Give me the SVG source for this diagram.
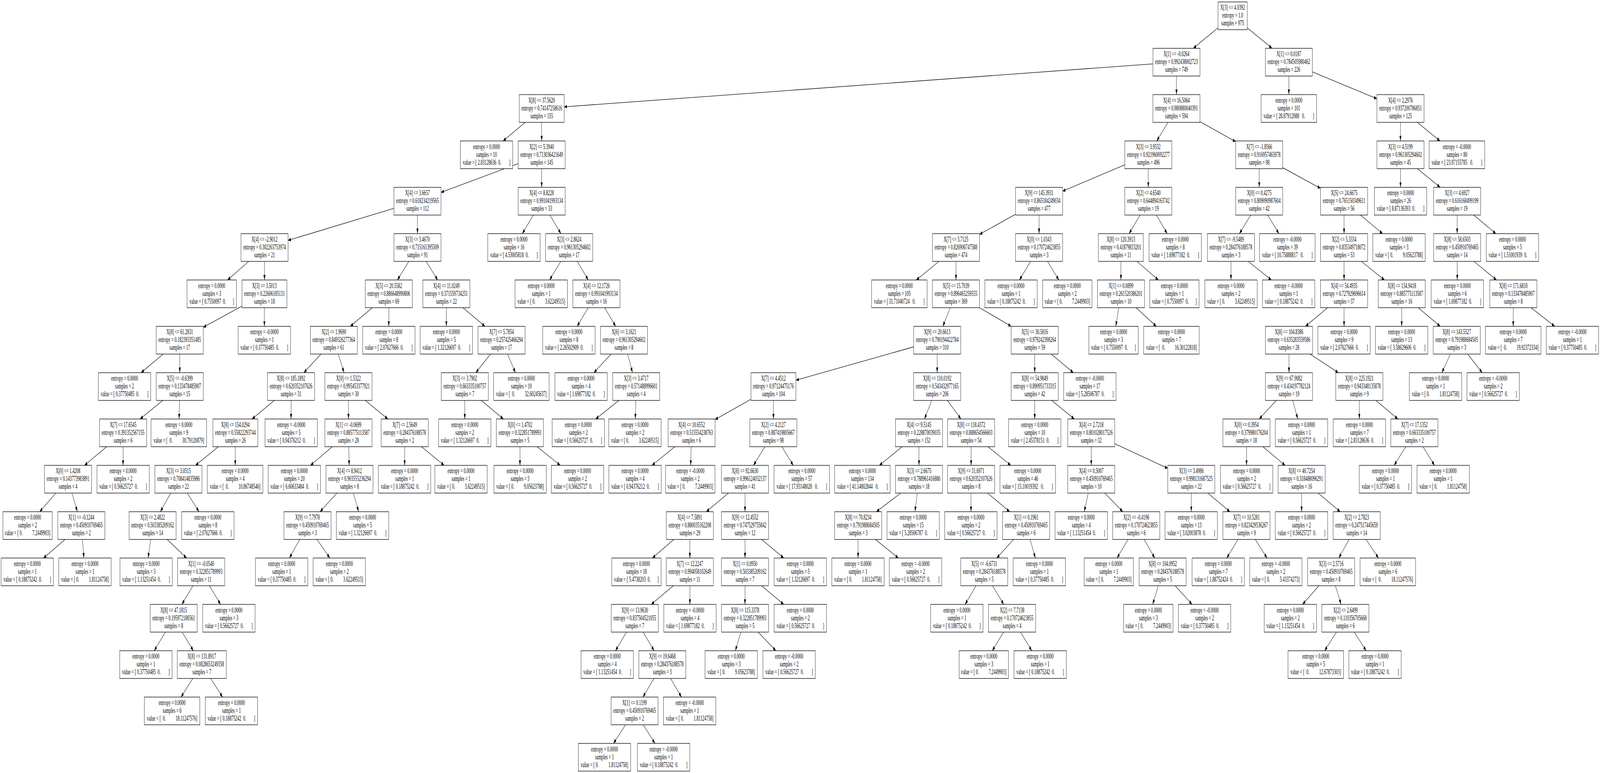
<svg xmlns="http://www.w3.org/2000/svg" width="7549" height="1980" viewBox="0 0 7549 1980" preserveAspectRatio="none" xml:space="preserve">
<style>
svg{width:100vw;height:100vh}
rect{fill:#fff;stroke:#000;stroke-width:1.33}
text{font-family:"Liberation Serif","Times New Roman",serif;font-size:18.5px;text-anchor:middle;fill:#000;white-space:pre}
#edges line{stroke:#000;stroke-width:1.33;marker-end:url(#ah)}
</style>
<defs><marker id="ah" markerUnits="userSpaceOnUse" markerWidth="13.3" markerHeight="9.4" viewBox="0 0 13.3 9.4" refX="13.3" refY="4.7" orient="auto"><path d="M0,0 L13.3,4.7 L0,9.4 z" fill="#000"/></marker></defs>
<rect x="0" y="0" width="7549" height="1980" style="stroke:none"/>
<g id="edges">
<line x1="5746.7" y1="71.4" x2="5630" y2="123.7"/><line x1="5884.7" y1="71.4" x2="6001.7" y2="123.7"/><line x1="5439.7" y1="163.6" x2="2661.7" y2="273.7"/><line x1="5550.7" y1="194.7" x2="5550.7" y2="242.4"/><line x1="6081" y1="194.7" x2="6081" y2="242.4"/><line x1="6192" y1="184.2" x2="6496.5" y2="252.9"/>
<line x1="2477.9" y1="313.4" x2="2373.4" y2="361.1"/><line x1="2555.7" y1="313.4" x2="2555.7" y2="361.1"/><line x1="5511" y1="313.4" x2="5457.6" y2="361.1"/><line x1="5661.7" y1="311.7" x2="5830" y2="362.8"/><line x1="6607.5" y1="313.4" x2="6607.5" y2="361.1"/><line x1="6687.2" y1="313.4" x2="6794.3" y2="361.1"/>
<line x1="2444.7" y1="419.1" x2="2080.7" y2="492.8"/><line x1="2555.7" y1="432.1" x2="2555.7" y2="479.8"/><line x1="5306.9" y1="422.2" x2="5013.5" y2="489.7"/><line x1="5417.9" y1="432.1" x2="5417.9" y2="479.8"/><line x1="5941.1" y1="432.1" x2="5941.1" y2="479.8"/><line x1="6052" y1="429.5" x2="6230.5" y2="482.4"/><line x1="6607.7" y1="432.1" x2="6607.7" y2="479.8"/><line x1="6687.5" y1="432.1" x2="6795" y2="479.8"/>
<line x1="1858.7" y1="533.6" x2="1359" y2="615.7"/><line x1="1969.7" y1="550.8" x2="1969.7" y2="598.5"/><line x1="2516.6" y1="550.8" x2="2464.1" y2="598.5"/><line x1="2594.4" y1="550.8" x2="2646.5" y2="598.5"/><line x1="4791.5" y1="548.9" x2="4621.3" y2="600.4"/><line x1="4902.5" y1="550.8" x2="4902.5" y2="598.5"/><line x1="5379.2" y1="550.8" x2="5327.1" y2="598.5"/><line x1="5455.9" y1="550.8" x2="5507" y2="598.5"/><line x1="5901.2" y1="550.8" x2="5847.6" y2="598.5"/><line x1="5980.9" y1="550.8" x2="6034.3" y2="598.5"/><line x1="6341.5" y1="550.8" x2="6341.5" y2="598.5"/><line x1="6419.1" y1="550.8" x2="6523.4" y2="598.5"/><line x1="6875" y1="550.8" x2="6875" y2="598.5"/><line x1="6953.1" y1="550.8" x2="7057.9" y2="598.5"/>
<line x1="1173.5" y1="669.5" x2="1073.5" y2="717.2"/><line x1="1247.8" y1="669.5" x2="1247.8" y2="717.2"/><line x1="1929.2" y1="669.5" x2="1874.8" y2="717.2"/><line x1="2010.5" y1="669.5" x2="2065.2" y2="717.2"/><line x1="2645.9" y1="669.5" x2="2593" y2="717.2"/><line x1="2723.7" y1="669.5" x2="2775.5" y2="717.2"/><line x1="4430.4" y1="669.5" x2="4322.9" y2="717.2"/><line x1="4510.3" y1="669.5" x2="4510.3" y2="717.2"/><line x1="4862.9" y1="669.5" x2="4809.6" y2="717.2"/><line x1="4942.3" y1="669.5" x2="4995.9" y2="717.2"/><line x1="5288.7" y1="669.5" x2="5288.7" y2="717.2"/><line x1="5363.9" y1="669.5" x2="5465.5" y2="717.2"/><line x1="5807.8" y1="669.5" x2="5807.8" y2="717.2"/><line x1="5889.1" y1="669.5" x2="5998.5" y2="717.2"/><line x1="6341.5" y1="669.5" x2="6341.5" y2="717.2"/><line x1="6422.9" y1="669.5" x2="6532.2" y2="717.2"/><line x1="6875.5" y1="669.5" x2="6875.5" y2="717.2"/><line x1="6954.3" y1="669.5" x2="7060.7" y2="717.2"/>
<line x1="1141.5" y1="784.2" x2="959" y2="838.4"/><line x1="1247.4" y1="788.2" x2="1247.4" y2="835.9"/><line x1="1756.8" y1="788.2" x2="1652.5" y2="835.9"/><line x1="1834.4" y1="788.2" x2="1834.4" y2="835.9"/><line x1="2106" y1="788.2" x2="2106" y2="835.9"/><line x1="2183.9" y1="788.2" x2="2288.5" y2="835.9"/><line x1="2775.1" y1="788.2" x2="2722.9" y2="835.9"/><line x1="2852.9" y1="788.2" x2="2905.1" y2="835.9"/><line x1="4483.8" y1="788.2" x2="4448.2" y2="835.9"/><line x1="4621.3" y1="788.2" x2="4771" y2="835.9"/><line x1="5278.5" y1="788.2" x2="5264.5" y2="835.9"/><line x1="5360.2" y1="788.2" x2="5455.8" y2="835.9"/><line x1="6263.8" y1="788.2" x2="6159.4" y2="835.9"/><line x1="6341.5" y1="788.2" x2="6341.5" y2="835.9"/><line x1="6613.3" y1="788.2" x2="6613.3" y2="835.9"/><line x1="6691.2" y1="788.2" x2="6795.4" y2="835.9"/><line x1="7139.7" y1="788.2" x2="7139.7" y2="835.9"/><line x1="7223.4" y1="788.2" x2="7335.6" y2="835.9"/>
<line x1="770.1" y1="906.9" x2="665.5" y2="954.6"/><line x1="848" y1="906.9" x2="848" y2="954.6"/><line x1="1514.6" y1="906.9" x2="1433.4" y2="954.6"/><line x1="1595.6" y1="906.9" x2="1623.4" y2="954.6"/><line x1="2314.5" y1="906.9" x2="2244.9" y2="954.6"/><line x1="2394.4" y1="906.9" x2="2432" y2="954.6"/><line x1="2883.4" y1="906.9" x2="2801.9" y2="954.6"/><line x1="2961.2" y1="906.9" x2="2984.3" y2="954.6"/><line x1="4310.7" y1="888.5" x2="3755.4" y2="973.8"/><line x1="4421.7" y1="906.9" x2="4421.7" y2="954.6"/><line x1="4882" y1="906.9" x2="4882" y2="954.6"/><line x1="4959.8" y1="906.9" x2="5064.2" y2="954.6"/><line x1="6081.7" y1="906.9" x2="6081.7" y2="954.6"/><line x1="6181" y1="906.9" x2="6314.3" y2="954.6"/><line x1="6843.1" y1="906.9" x2="6802.9" y2="954.6"/><line x1="6924.4" y1="906.9" x2="6993.6" y2="954.6"/>
<line x1="768.1" y1="1025.6" x2="660.6" y2="1073.3"/><line x1="846.7" y1="1025.6" x2="845.1" y2="1073.3"/><line x1="1294.5" y1="1025.6" x2="1189" y2="1073.3"/><line x1="1373.3" y1="1025.6" x2="1373.3" y2="1073.3"/><line x1="1644" y1="1025.6" x2="1644" y2="1073.3"/><line x1="1723.4" y1="1025.6" x2="1830.1" y2="1073.3"/><line x1="2192.9" y1="1025.6" x2="2192.9" y2="1073.3"/><line x1="2270.8" y1="1025.6" x2="2375.2" y2="1073.3"/><line x1="2919.9" y1="1025.6" x2="2810.2" y2="1073.3"/><line x1="2999.8" y1="1025.6" x2="2997.5" y2="1073.3"/><line x1="3543.4" y1="1022.7" x2="3374" y2="1074.7"/><line x1="3649.1" y1="1025.6" x2="3649.1" y2="1073.3"/><line x1="4396.1" y1="1025.6" x2="4361.6" y2="1073.3"/><line x1="4469.6" y1="1025.6" x2="4533.9" y2="1073.3"/><line x1="4882" y1="1025.6" x2="4882" y2="1073.3"/><line x1="4961.8" y1="1025.6" x2="5068.9" y2="1073.3"/><line x1="6021.7" y1="1025.6" x2="5941" y2="1073.3"/><line x1="6099.3" y1="1025.6" x2="6123.1" y2="1073.3"/><line x1="6413.6" y1="1025.6" x2="6413.6" y2="1073.3"/><line x1="6491.3" y1="1025.6" x2="6595.6" y2="1073.3"/>
<line x1="503" y1="1144.3" x2="398.6" y2="1192"/><line x1="580.7" y1="1144.3" x2="580.7" y2="1192"/><line x1="1030.2" y1="1144.3" x2="922.3" y2="1192"/><line x1="1109.9" y1="1144.3" x2="1109.9" y2="1192"/><line x1="1567.6" y1="1144.3" x2="1464.9" y2="1192"/><line x1="1645.5" y1="1144.3" x2="1647.5" y2="1192"/><line x1="1909.2" y1="1144.3" x2="1909.2" y2="1192"/><line x1="1988.9" y1="1144.3" x2="2095.6" y2="1192"/><line x1="2453.3" y1="1144.3" x2="2453.3" y2="1192"/><line x1="2534.3" y1="1144.3" x2="2643.5" y2="1192"/><line x1="3183.3" y1="1144.3" x2="3076.1" y2="1192"/><line x1="3261.1" y1="1144.3" x2="3258.6" y2="1192"/><line x1="3608.8" y1="1144.3" x2="3555" y2="1192"/><line x1="3688.9" y1="1144.3" x2="3742.9" y2="1192"/><line x1="4256.1" y1="1144.3" x2="4148.9" y2="1192"/><line x1="4336" y1="1144.3" x2="4336" y2="1192"/><line x1="4581.8" y1="1144.3" x2="4581.8" y2="1192"/><line x1="4661.7" y1="1144.3" x2="4769.1" y2="1192"/><line x1="5148.7" y1="1144.3" x2="5148.7" y2="1192"/><line x1="5259.7" y1="1136.7" x2="5509.7" y2="1199.6"/><line x1="5881.3" y1="1144.3" x2="5881.3" y2="1192"/><line x1="5958.8" y1="1144.3" x2="6063.5" y2="1192"/><line x1="6632.4" y1="1144.3" x2="6577.6" y2="1192"/><line x1="6713.8" y1="1144.3" x2="6768.3" y2="1192"/>
<line x1="263.8" y1="1263" x2="187.1" y2="1310.7"/><line x1="339.7" y1="1263" x2="364.9" y2="1310.7"/><line x1="805.5" y1="1263" x2="756.5" y2="1310.7"/><line x1="883.5" y1="1263" x2="939.1" y2="1310.7"/><line x1="1589.7" y1="1263" x2="1510" y2="1310.7"/><line x1="1667.4" y1="1263" x2="1692.1" y2="1310.7"/><line x1="3437.2" y1="1263" x2="3332.5" y2="1310.7"/><line x1="3515" y1="1263" x2="3515" y2="1310.7"/><line x1="4250.2" y1="1263" x2="4134.8" y2="1310.7"/><line x1="4327.8" y1="1263" x2="4316.9" y2="1310.7"/><line x1="4581.4" y1="1263" x2="4581.4" y2="1310.7"/><line x1="4659.4" y1="1263" x2="4763.8" y2="1310.7"/><line x1="5134.6" y1="1263" x2="5115.6" y2="1310.7"/><line x1="5212.2" y1="1263" x2="5297.5" y2="1310.7"/><line x1="5620.6" y1="1263" x2="5620.6" y2="1310.7"/><line x1="5698.5" y1="1263" x2="5803.2" y2="1310.7"/><line x1="6141" y1="1263" x2="6141" y2="1310.7"/><line x1="6219" y1="1263" x2="6323.3" y2="1310.7"/>
<line x1="307.4" y1="1381.7" x2="205" y2="1429.4"/><line x1="388.9" y1="1381.7" x2="395.8" y2="1429.4"/><line x1="710.9" y1="1381.7" x2="698.6" y2="1429.4"/><line x1="788.5" y1="1381.7" x2="880.4" y2="1429.4"/><line x1="1414.2" y1="1381.7" x2="1365.3" y2="1429.4"/><line x1="1495.7" y1="1381.7" x2="1556" y2="1429.4"/><line x1="3179.4" y1="1381.7" x2="3078.1" y2="1429.4"/><line x1="3254.7" y1="1381.7" x2="3254.7" y2="1429.4"/><line x1="3515" y1="1381.7" x2="3515" y2="1429.4"/><line x1="3593.1" y1="1381.7" x2="3697.9" y2="1429.4"/><line x1="4048.5" y1="1381.7" x2="4048.5" y2="1429.4"/><line x1="4130" y1="1381.7" x2="4238.7" y2="1429.4"/><line x1="4782.2" y1="1381.7" x2="4702.8" y2="1429.4"/><line x1="4860.1" y1="1381.7" x2="4885.1" y2="1429.4"/><line x1="5322.3" y1="1381.7" x2="5270.3" y2="1429.4"/><line x1="5398.2" y1="1381.7" x2="5448.3" y2="1429.4"/><line x1="5841.2" y1="1381.7" x2="5787.8" y2="1429.4"/><line x1="5922.4" y1="1381.7" x2="5978.1" y2="1429.4"/><line x1="6365" y1="1381.7" x2="6316.5" y2="1429.4"/><line x1="6445" y1="1381.7" x2="6504" y2="1429.4"/>
<line x1="910.2" y1="1500.4" x2="858.2" y2="1548.1"/><line x1="988.1" y1="1500.4" x2="1040.8" y2="1548.1"/><line x1="3177" y1="1500.4" x2="3072.7" y2="1548.1"/><line x1="3255" y1="1500.4" x2="3255" y2="1548.1"/><line x1="3515" y1="1500.4" x2="3515" y2="1548.1"/><line x1="3593.1" y1="1500.4" x2="3697.9" y2="1548.1"/><line x1="4605.1" y1="1500.4" x2="4553.3" y2="1548.1"/><line x1="4682.9" y1="1500.4" x2="4735.7" y2="1548.1"/><line x1="5465.3" y1="1500.4" x2="5438.2" y2="1548.1"/><line x1="5544.7" y1="1500.4" x2="5624.3" y2="1548.1"/><line x1="6222.9" y1="1500.4" x2="6145.6" y2="1548.1"/><line x1="6300.6" y1="1500.4" x2="6327.5" y2="1548.1"/>
<line x1="780.3" y1="1619.1" x2="727.5" y2="1666.8"/><line x1="859.1" y1="1619.1" x2="912.4" y2="1666.8"/><line x1="2956.1" y1="1619.1" x2="2903.9" y2="1666.8"/><line x1="3033.9" y1="1619.1" x2="3086.1" y2="1666.8"/><line x1="3495.6" y1="1619.1" x2="3469.4" y2="1666.8"/><line x1="3577.2" y1="1619.1" x2="3660.8" y2="1666.8"/><line x1="4735.1" y1="1619.1" x2="4681.6" y2="1666.8"/><line x1="4814.7" y1="1619.1" x2="4868" y2="1666.8"/><line x1="6305.8" y1="1619.1" x2="6249.6" y2="1666.8"/><line x1="6389.4" y1="1619.1" x2="6445.7" y2="1666.8"/>
<line x1="910.1" y1="1737.8" x2="853.9" y2="1785.5"/><line x1="993.9" y1="1737.8" x2="1050.1" y2="1785.5"/><line x1="3085.8" y1="1737.8" x2="3033.2" y2="1785.5"/><line x1="3163.6" y1="1737.8" x2="3215.4" y2="1785.5"/>
<line x1="2951.5" y1="1856.5" x2="2894.5" y2="1904.2"/><line x1="3035" y1="1856.5" x2="3090" y2="1904.2"/>
</g>
<g id="n0" transform="translate(5815.7,5)"><rect x="-69" width="138" height="71"/><text y="20.5">X[3] &lt;= 4.0392</text><text y="40.5">entropy = 1.0</text><text y="60.5">samples = 975</text></g>
<g id="n1" transform="translate(5550.7,123.7)"><rect x="-111" width="222" height="71"/><text y="20.5">X[1] &lt;= -0.0264</text><text y="40.5">entropy = 0.992438002723</text><text y="60.5">samples = 749</text></g>
<g id="n2" transform="translate(6081,123.7)"><rect x="-111" width="222" height="71"/><text y="20.5">X[1] &lt;= 0.0187</text><text y="40.5">entropy = 0.784505980462</text><text y="60.5">samples = 226</text></g>
<g id="n3" transform="translate(2555.7,242.4)"><rect x="-106" width="212" height="71"/><text y="20.5">X[8] &lt;= 37.5620</text><text y="40.5">entropy = 0.74147258616</text><text y="60.5">samples = 155</text></g>
<g id="n4" transform="translate(5550.7,242.4)"><rect x="-111" width="222" height="71"/><text y="20.5">X[4] &lt;= 16.5064</text><text y="40.5">entropy = 0.980880040391</text><text y="60.5">samples = 594</text></g>
<g id="n5" transform="translate(6081,242.4)"><rect x="-131" width="262" height="71"/><text y="20.5">entropy = 0.0000</text><text y="40.5">samples = 101</text><text y="60.5">value = [ 28.87912088   0.        ]</text></g>
<g id="n6" transform="translate(6607.5,242.4)"><rect x="-111" width="222" height="71"/><text y="20.5">X[4] &lt;= 2.2976</text><text y="40.5">entropy = 0.937200786851</text><text y="60.5">samples = 125</text></g>
<g id="n7" transform="translate(2295.6,361.1)"><rect x="-123.5" width="247" height="71"/><text y="20.5">entropy = 0.0000</text><text y="40.5">samples = 10</text><text y="60.5">value = [ 2.83128636  0.        ]</text></g>
<g id="n8" transform="translate(2555.7,361.1)"><rect x="-111" width="222" height="71"/><text y="20.5">X[2] &lt;= 5.3940</text><text y="40.5">entropy = 0.713036421649</text><text y="60.5">samples = 145</text></g>
<g id="n9" transform="translate(5417.9,361.1)"><rect x="-111" width="222" height="71"/><text y="20.5">X[3] &lt;= 3.9532</text><text y="40.5">entropy = 0.921960092277</text><text y="60.5">samples = 496</text></g>
<g id="n10" transform="translate(5941,361.1)"><rect x="-111" width="222" height="71"/><text y="20.5">X[7] &lt;= -1.8566</text><text y="40.5">entropy = 0.916957465978</text><text y="60.5">samples = 98</text></g>
<g id="n11" transform="translate(6607.5,361.1)"><rect x="-111" width="222" height="71"/><text y="20.5">X[3] &lt;= 4.5199</text><text y="40.5">entropy = 0.961305294602</text><text y="60.5">samples = 45</text></g>
<g id="n12" transform="translate(6874,361.1)"><rect x="-131" width="262" height="71"/><text y="20.5">entropy = -0.0000</text><text y="40.5">samples = 80</text><text y="60.5">value = [ 23.97155785   0.        ]</text></g>
<g id="n13" transform="translate(1969.7,479.8)"><rect x="-111" width="222" height="71"/><text y="20.5">X[4] &lt;= 3.6657</text><text y="40.5">entropy = 0.618234219565</text><text y="60.5">samples = 112</text></g>
<g id="n14" transform="translate(2555.7,479.8)"><rect x="-111" width="222" height="71"/><text y="20.5">X[4] &lt;= 8.8228</text><text y="40.5">entropy = 0.991041993134</text><text y="60.5">samples = 33</text></g>
<g id="n15" transform="translate(4902.5,479.8)"><rect x="-111" width="222" height="71"/><text y="20.5">X[9] &lt;= 145.3931</text><text y="40.5">entropy = 0.865184249034</text><text y="60.5">samples = 477</text></g>
<g id="n16" transform="translate(5417.9,479.8)"><rect x="-111" width="222" height="71"/><text y="20.5">X[2] &lt;= 4.6540</text><text y="40.5">entropy = 0.644894163742</text><text y="60.5">samples = 19</text></g>
<g id="n17" transform="translate(5941.2,479.8)"><rect x="-111" width="222" height="71"/><text y="20.5">X[0] &lt;= 0.4275</text><text y="40.5">entropy = 0.809090987604</text><text y="60.5">samples = 42</text></g>
<g id="n18" transform="translate(6341.5,479.8)"><rect x="-111" width="222" height="71"/><text y="20.5">X[5] &lt;= 24.6675</text><text y="40.5">entropy = 0.765150349611</text><text y="60.5">samples = 56</text></g>
<g id="n19" transform="translate(6608,479.8)"><rect x="-123.5" width="247" height="71"/><text y="20.5">entropy = 0.0000</text><text y="40.5">samples = 26</text><text y="60.5">value = [ 8.87136393  0.        ]</text></g>
<g id="n20" transform="translate(6875,479.8)"><rect x="-111" width="222" height="71"/><text y="20.5">X[3] &lt;= 4.6927</text><text y="40.5">entropy = 0.616168499199</text><text y="60.5">samples = 19</text></g>
<g id="n21" transform="translate(1248,598.5)"><rect x="-111" width="222" height="71"/><text y="20.5">X[4] &lt;= -2.9012</text><text y="40.5">entropy = 0.302263753974</text><text y="60.5">samples = 21</text></g>
<g id="n22" transform="translate(1969.7,598.5)"><rect x="-111" width="222" height="71"/><text y="20.5">X[3] &lt;= 3.4670</text><text y="40.5">entropy = 0.715161395509</text><text y="60.5">samples = 91</text></g>
<g id="n23" transform="translate(2425,598.5)"><rect x="-123.5" width="247" height="71"/><text y="20.5">entropy = 0.0000</text><text y="40.5">samples = 16</text><text y="60.5">value = [ 4.53005818  0.        ]</text></g>
<g id="n24" transform="translate(2685.2,598.5)"><rect x="-111" width="222" height="71"/><text y="20.5">X[3] &lt;= 2.8624</text><text y="40.5">entropy = 0.961305294602</text><text y="60.5">samples = 17</text></g>
<g id="n25" transform="translate(4510.3,598.5)"><rect x="-111" width="222" height="71"/><text y="20.5">X[7] &lt;= 3.7125</text><text y="40.5">entropy = 0.826906747588</text><text y="60.5">samples = 474</text></g>
<g id="n26" transform="translate(4902.5,598.5)"><rect x="-111" width="222" height="71"/><text y="20.5">X[0] &lt;= 1.0343</text><text y="40.5">entropy = 0.170724623855</text><text y="60.5">samples = 3</text></g>
<g id="n27" transform="translate(5288.4,598.5)"><rect x="-106" width="212" height="71"/><text y="20.5">X[8] &lt;= 120.3913</text><text y="40.5">entropy = 0.41879833201</text><text y="60.5">samples = 11</text></g>
<g id="n28" transform="translate(5545,598.5)"><rect x="-123.5" width="247" height="71"/><text y="20.5">entropy = 0.0000</text><text y="40.5">samples = 8</text><text y="60.5">value = [ 1.69877182  0.        ]</text></g>
<g id="n29" transform="translate(5807.6,598.5)"><rect x="-111" width="222" height="71"/><text y="20.5">X[7] &lt;= -9.5489</text><text y="40.5">entropy = 0.284376188578</text><text y="60.5">samples = 3</text></g>
<g id="n30" transform="translate(6074,598.5)"><rect x="-131" width="262" height="71"/><text y="20.5">entropy = -0.0000</text><text y="40.5">samples = 39</text><text y="60.5">value = [ 10.75888817   0.        ]</text></g>
<g id="n31" transform="translate(6341.5,598.5)"><rect x="-111" width="222" height="71"/><text y="20.5">X[2] &lt;= 5.3334</text><text y="40.5">entropy = 0.835349718072</text><text y="60.5">samples = 53</text></g>
<g id="n32" transform="translate(6601,598.5)"><rect x="-123.5" width="247" height="71"/><text y="20.5">entropy = 0.0000</text><text y="40.5">samples = 3</text><text y="60.5">value = [ 0.          9.05623788]</text></g>
<g id="n33" transform="translate(6875,598.5)"><rect x="-111" width="222" height="71"/><text y="20.5">X[8] &lt;= 58.6503</text><text y="40.5">entropy = 0.450910769465</text><text y="60.5">samples = 14</text></g>
<g id="n34" transform="translate(7136,598.5)"><rect x="-123.5" width="247" height="71"/><text y="20.5">entropy = 0.0000</text><text y="40.5">samples = 5</text><text y="60.5">value = [ 1.51001939  0.        ]</text></g>
<g id="n35" transform="translate(999,717.2)"><rect x="-116.5" width="233" height="71"/><text y="20.5">entropy = 0.0000</text><text y="40.5">samples = 3</text><text y="60.5">value = [ 0.7550097  0.       ]</text></g>
<g id="n36" transform="translate(1247.5,717.2)"><rect x="-106" width="212" height="71"/><text y="20.5">X[3] &lt;= 3.5013</text><text y="40.5">entropy = 0.22606185131</text><text y="60.5">samples = 18</text></g>
<g id="n37" transform="translate(1834.3,717.2)"><rect x="-111" width="222" height="71"/><text y="20.5">X[5] &lt;= 20.5582</text><text y="40.5">entropy = 0.886648990806</text><text y="60.5">samples = 69</text></g>
<g id="n38" transform="translate(2106,717.2)"><rect x="-111" width="222" height="71"/><text y="20.5">X[4] &lt;= 11.0249</text><text y="40.5">entropy = 0.371559734251</text><text y="60.5">samples = 22</text></g>
<g id="n39" transform="translate(2553.7,717.2)"><rect x="-123.5" width="247" height="71"/><text y="20.5">entropy = 0.0000</text><text y="40.5">samples = 1</text><text y="60.5">value = [ 0.          3.62249515]</text></g>
<g id="n40" transform="translate(2814,717.2)"><rect x="-111" width="222" height="71"/><text y="20.5">X[4] &lt;= 12.1726</text><text y="40.5">entropy = 0.991041993134</text><text y="60.5">samples = 16</text></g>
<g id="n41" transform="translate(4243,717.2)"><rect x="-131" width="262" height="71"/><text y="20.5">entropy = 0.0000</text><text y="40.5">samples = 105</text><text y="60.5">value = [ 31.71040724   0.        ]</text></g>
<g id="n42" transform="translate(4510.3,717.2)"><rect x="-111" width="222" height="71"/><text y="20.5">X[5] &lt;= 15.7039</text><text y="40.5">entropy = 0.896465259555</text><text y="60.5">samples = 369</text></g>
<g id="n43" transform="translate(4770,717.2)"><rect x="-123.5" width="247" height="71"/><text y="20.5">entropy = 0.0000</text><text y="40.5">samples = 1</text><text y="60.5">value = [ 0.18875242  0.        ]</text></g>
<g id="n44" transform="translate(5035.7,717.2)"><rect x="-116.5" width="233" height="71"/><text y="20.5">entropy = 0.0000</text><text y="40.5">samples = 2</text><text y="60.5">value = [ 0.          7.2449903]</text></g>
<g id="n45" transform="translate(5289,717.2)"><rect x="-111" width="222" height="71"/><text y="20.5">X[1] &lt;= 0.0899</text><text y="40.5">entropy = 0.261520386201</text><text y="60.5">samples = 10</text></g>
<g id="n46" transform="translate(5541,717.2)"><rect x="-116.5" width="233" height="71"/><text y="20.5">entropy = 0.0000</text><text y="40.5">samples = 1</text><text y="60.5">value = [ 0.7550097  0.       ]</text></g>
<g id="n47" transform="translate(5808,717.2)"><rect x="-123.5" width="247" height="71"/><text y="20.5">entropy = 0.0000</text><text y="40.5">samples = 2</text><text y="60.5">value = [ 0.          3.62249515]</text></g>
<g id="n48" transform="translate(6080,717.2)"><rect x="-123.5" width="247" height="71"/><text y="20.5">entropy = -0.0000</text><text y="40.5">samples = 1</text><text y="60.5">value = [ 0.18875242  0.        ]</text></g>
<g id="n49" transform="translate(6341.5,717.2)"><rect x="-111" width="222" height="71"/><text y="20.5">X[4] &lt;= 54.4935</text><text y="40.5">entropy = 0.727929696614</text><text y="60.5">samples = 37</text></g>
<g id="n50" transform="translate(6613.6,717.2)"><rect x="-111" width="222" height="71"/><text y="20.5">X[8] &lt;= 134.9418</text><text y="40.5">entropy = 0.885775113587</text><text y="60.5">samples = 16</text></g>
<g id="n51" transform="translate(6876,717.2)"><rect x="-123.5" width="247" height="71"/><text y="20.5">entropy = 0.0000</text><text y="40.5">samples = 6</text><text y="60.5">value = [ 1.69877182  0.        ]</text></g>
<g id="n52" transform="translate(7140,717.2)"><rect x="-111" width="222" height="71"/><text y="20.5">X[8] &lt;= 171.6810</text><text y="40.5">entropy = 0.133478485907</text><text y="60.5">samples = 8</text></g>
<g id="n53" transform="translate(848,835.9)"><rect x="-111" width="222" height="71"/><text y="20.5">X[8] &lt;= 61.2831</text><text y="40.5">entropy = 0.182393351485</text><text y="60.5">samples = 17</text></g>
<g id="n54" transform="translate(1247.3,835.9)"><rect x="-123.5" width="247" height="71"/><text y="20.5">entropy = -0.0000</text><text y="40.5">samples = 1</text><text y="60.5">value = [ 0.37750485  0.        ]</text></g>
<g id="n55" transform="translate(1575,835.9)"><rect x="-111" width="222" height="71"/><text y="20.5">X[2] &lt;= 1.9690</text><text y="40.5">entropy = 0.849326277364</text><text y="60.5">samples = 61</text></g>
<g id="n56" transform="translate(1834.5,835.9)"><rect x="-123.5" width="247" height="71"/><text y="20.5">entropy = 0.0000</text><text y="40.5">samples = 8</text><text y="60.5">value = [ 2.07627666  0.        ]</text></g>
<g id="n57" transform="translate(2106,835.9)"><rect x="-123.5" width="247" height="71"/><text y="20.5">entropy = 0.0000</text><text y="40.5">samples = 5</text><text y="60.5">value = [ 1.32126697  0.        ]</text></g>
<g id="n58" transform="translate(2366.4,835.9)"><rect x="-111" width="222" height="71"/><text y="20.5">X[7] &lt;= 5.7854</text><text y="40.5">entropy = 0.257425466294</text><text y="60.5">samples = 17</text></g>
<g id="n59" transform="translate(2684,835.9)"><rect x="-123.5" width="247" height="71"/><text y="20.5">entropy = 0.0000</text><text y="40.5">samples = 8</text><text y="60.5">value = [ 2.26502909  0.        ]</text></g>
<g id="n60" transform="translate(2944,835.9)"><rect x="-111" width="222" height="71"/><text y="20.5">X[6] &lt;= 3.1621</text><text y="40.5">entropy = 0.961305294602</text><text y="60.5">samples = 8</text></g>
<g id="n61" transform="translate(4421.7,835.9)"><rect x="-111" width="222" height="71"/><text y="20.5">X[9] &lt;= 20.6613</text><text y="40.5">entropy = 0.790194422784</text><text y="60.5">samples = 310</text></g>
<g id="n62" transform="translate(4882,835.9)"><rect x="-111" width="222" height="71"/><text y="20.5">X[5] &lt;= 30.5816</text><text y="40.5">entropy = 0.979242398264</text><text y="60.5">samples = 59</text></g>
<g id="n63" transform="translate(5254,835.9)"><rect x="-116.5" width="233" height="71"/><text y="20.5">entropy = 0.0000</text><text y="40.5">samples = 3</text><text y="60.5">value = [ 0.7550097  0.       ]</text></g>
<g id="n64" transform="translate(5527,835.9)"><rect x="-131" width="262" height="71"/><text y="20.5">entropy = 0.0000</text><text y="40.5">samples = 7</text><text y="60.5">value = [  0.          16.30122818]</text></g>
<g id="n65" transform="translate(6081.7,835.9)"><rect x="-111" width="222" height="71"/><text y="20.5">X[8] &lt;= 104.8386</text><text y="40.5">entropy = 0.635283559586</text><text y="60.5">samples = 28</text></g>
<g id="n66" transform="translate(6341.5,835.9)"><rect x="-123.5" width="247" height="71"/><text y="20.5">entropy = 0.0000</text><text y="40.5">samples = 9</text><text y="60.5">value = [ 2.07627666  0.        ]</text></g>
<g id="n67" transform="translate(6613,835.9)"><rect x="-123.5" width="247" height="71"/><text y="20.5">entropy = 0.0000</text><text y="40.5">samples = 13</text><text y="60.5">value = [ 3.58629606  0.        ]</text></g>
<g id="n68" transform="translate(6873,835.9)"><rect x="-111" width="222" height="71"/><text y="20.5">X[8] &lt;= 143.5527</text><text y="40.5">entropy = 0.791988684505</text><text y="60.5">samples = 3</text></g>
<g id="n69" transform="translate(7139.5,835.9)"><rect x="-131" width="262" height="71"/><text y="20.5">entropy = 0.0000</text><text y="40.5">samples = 7</text><text y="60.5">value = [  0.          19.92372334]</text></g>
<g id="n70" transform="translate(7419,835.9)"><rect x="-123.5" width="247" height="71"/><text y="20.5">entropy = -0.0000</text><text y="40.5">samples = 1</text><text y="60.5">value = [ 0.37750485  0.        ]</text></g>
<g id="n71" transform="translate(587.6,954.6)"><rect x="-123.5" width="247" height="71"/><text y="20.5">entropy = 0.0000</text><text y="40.5">samples = 2</text><text y="60.5">value = [ 0.37750485  0.        ]</text></g>
<g id="n72" transform="translate(848,954.6)"><rect x="-111" width="222" height="71"/><text y="20.5">X[5] &lt;= -0.6399</text><text y="40.5">entropy = 0.133478485907</text><text y="60.5">samples = 15</text></g>
<g id="n73" transform="translate(1373,954.6)"><rect x="-111" width="222" height="71"/><text y="20.5">X[8] &lt;= 185.1892</text><text y="40.5">entropy = 0.620352107626</text><text y="60.5">samples = 31</text></g>
<g id="n74" transform="translate(1644,954.6)"><rect x="-111" width="222" height="71"/><text y="20.5">X[0] &lt;= 1.5322</text><text y="40.5">entropy = 0.995453377921</text><text y="60.5">samples = 30</text></g>
<g id="n75" transform="translate(2193,954.6)"><rect x="-111" width="222" height="71"/><text y="20.5">X[3] &lt;= 3.7902</text><text y="40.5">entropy = 0.663335100757</text><text y="60.5">samples = 7</text></g>
<g id="n76" transform="translate(2460,954.6)"><rect x="-131" width="262" height="71"/><text y="20.5">entropy = 0.0000</text><text y="40.5">samples = 10</text><text y="60.5">value = [  0.          32.60245637]</text></g>
<g id="n77" transform="translate(2741.3,954.6)"><rect x="-123.5" width="247" height="71"/><text y="20.5">entropy = 0.0000</text><text y="40.5">samples = 4</text><text y="60.5">value = [ 1.69877182  0.        ]</text></g>
<g id="n78" transform="translate(3001.5,954.6)"><rect x="-111" width="222" height="71"/><text y="20.5">X[3] &lt;= 3.4717</text><text y="40.5">entropy = 0.571488996601</text><text y="60.5">samples = 4</text></g>
<g id="n79" transform="translate(3649.4,954.6)"><rect x="-106" width="212" height="71"/><text y="20.5">X[7] &lt;= 4.4512</text><text y="40.5">entropy = 0.97124475176</text><text y="60.5">samples = 104</text></g>
<g id="n80" transform="translate(4421.7,954.6)"><rect x="-111" width="222" height="71"/><text y="20.5">X[8] &lt;= 110.0192</text><text y="40.5">entropy = 0.543432977165</text><text y="60.5">samples = 206</text></g>
<g id="n81" transform="translate(4882,954.6)"><rect x="-111" width="222" height="71"/><text y="20.5">X[8] &lt;= 54.9849</text><text y="40.5">entropy = 0.890951733315</text><text y="60.5">samples = 42</text></g>
<g id="n82" transform="translate(5142,954.6)"><rect x="-123.5" width="247" height="71"/><text y="20.5">entropy = -0.0000</text><text y="40.5">samples = 17</text><text y="60.5">value = [ 5.28506787  0.        ]</text></g>
<g id="n83" transform="translate(6081.7,954.6)"><rect x="-111" width="222" height="71"/><text y="20.5">X[9] &lt;= 67.9082</text><text y="40.5">entropy = 0.434197782124</text><text y="60.5">samples = 19</text></g>
<g id="n84" transform="translate(6413.6,954.6)"><rect x="-111" width="222" height="71"/><text y="20.5">X[8] &lt;= 225.1921</text><text y="40.5">entropy = 0.943348135878</text><text y="60.5">samples = 9</text></g>
<g id="n85" transform="translate(6773,954.6)"><rect x="-123.5" width="247" height="71"/><text y="20.5">entropy = 0.0000</text><text y="40.5">samples = 1</text><text y="60.5">value = [ 0.          1.81124758]</text></g>
<g id="n86" transform="translate(7045,954.6)"><rect x="-123.5" width="247" height="71"/><text y="20.5">entropy = -0.0000</text><text y="40.5">samples = 2</text><text y="60.5">value = [ 0.56625727  0.        ]</text></g>
<g id="n87" transform="translate(580.7,1073.3)"><rect x="-111" width="222" height="71"/><text y="20.5">X[7] &lt;= 17.6545</text><text y="40.5">entropy = 0.391352567155</text><text y="60.5">samples = 6</text></g>
<g id="n88" transform="translate(843.8,1073.3)"><rect x="-131" width="262" height="71"/><text y="20.5">entropy = 0.0000</text><text y="40.5">samples = 9</text><text y="60.5">value = [  0.          30.79120879]</text></g>
<g id="n89" transform="translate(1110.5,1073.3)"><rect x="-106" width="212" height="71"/><text y="20.5">X[8] &lt;= 154.0294</text><text y="40.5">entropy = 0.55822293744</text><text y="60.5">samples = 26</text></g>
<g id="n90" transform="translate(1373.6,1073.3)"><rect x="-123.5" width="247" height="71"/><text y="20.5">entropy = -0.0000</text><text y="40.5">samples = 5</text><text y="60.5">value = [ 0.94376212  0.        ]</text></g>
<g id="n91" transform="translate(1644,1073.3)"><rect x="-111" width="222" height="71"/><text y="20.5">X[1] &lt;= -0.0699</text><text y="40.5">entropy = 0.885775113587</text><text y="60.5">samples = 28</text></g>
<g id="n92" transform="translate(1909.5,1073.3)"><rect x="-111" width="222" height="71"/><text y="20.5">X[7] &lt;= 2.5649</text><text y="40.5">entropy = 0.284376188578</text><text y="60.5">samples = 2</text></g>
<g id="n93" transform="translate(2192.8,1073.3)"><rect x="-123.5" width="247" height="71"/><text y="20.5">entropy = 0.0000</text><text y="40.5">samples = 2</text><text y="60.5">value = [ 1.32126697  0.        ]</text></g>
<g id="n94" transform="translate(2453,1073.3)"><rect x="-111" width="222" height="71"/><text y="20.5">X[0] &lt;= 1.4702</text><text y="40.5">entropy = 0.322851789993</text><text y="60.5">samples = 5</text></g>
<g id="n95" transform="translate(2728.6,1073.3)"><rect x="-123.5" width="247" height="71"/><text y="20.5">entropy = 0.0000</text><text y="40.5">samples = 2</text><text y="60.5">value = [ 0.56625727  0.        ]</text></g>
<g id="n96" transform="translate(2995.8,1073.3)"><rect x="-123.5" width="247" height="71"/><text y="20.5">entropy = 0.0000</text><text y="40.5">samples = 2</text><text y="60.5">value = [ 0.          3.62249515]</text></g>
<g id="n97" transform="translate(3263,1073.3)"><rect x="-111" width="222" height="71"/><text y="20.5">X[4] &lt;= 10.6552</text><text y="40.5">entropy = 0.515554238763</text><text y="60.5">samples = 6</text></g>
<g id="n98" transform="translate(3648.8,1073.3)"><rect x="-111" width="222" height="71"/><text y="20.5">X[2] &lt;= 4.2127</text><text y="40.5">entropy = 0.887419805667</text><text y="60.5">samples = 98</text></g>
<g id="n99" transform="translate(4336,1073.3)"><rect x="-111" width="222" height="71"/><text y="20.5">X[4] &lt;= 9.5145</text><text y="40.5">entropy = 0.228870039035</text><text y="60.5">samples = 152</text></g>
<g id="n100" transform="translate(4581.8,1073.3)"><rect x="-111" width="222" height="71"/><text y="20.5">X[8] &lt;= 118.4372</text><text y="40.5">entropy = 0.888654566603</text><text y="60.5">samples = 54</text></g>
<g id="n101" transform="translate(4882,1073.3)"><rect x="-123.5" width="247" height="71"/><text y="20.5">entropy = 0.0000</text><text y="40.5">samples = 10</text><text y="60.5">value = [ 2.45378151  0.        ]</text></g>
<g id="n102" transform="translate(5148.7,1073.3)"><rect x="-111" width="222" height="71"/><text y="20.5">X[4] &lt;= 2.7218</text><text y="40.5">entropy = 0.801028017526</text><text y="60.5">samples = 32</text></g>
<g id="n103" transform="translate(5881,1073.3)"><rect x="-111" width="222" height="71"/><text y="20.5">X[0] &lt;= 0.3954</text><text y="40.5">entropy = 0.379980176204</text><text y="60.5">samples = 18</text></g>
<g id="n104" transform="translate(6140.7,1073.3)"><rect x="-123.5" width="247" height="71"/><text y="20.5">entropy = 0.0000</text><text y="40.5">samples = 1</text><text y="60.5">value = [ 0.56625727  0.        ]</text></g>
<g id="n105" transform="translate(6413.7,1073.3)"><rect x="-123.5" width="247" height="71"/><text y="20.5">entropy = 0.0000</text><text y="40.5">samples = 7</text><text y="60.5">value = [ 2.83128636  0.        ]</text></g>
<g id="n106" transform="translate(6673.3,1073.3)"><rect x="-111" width="222" height="71"/><text y="20.5">X[7] &lt;= 17.1352</text><text y="40.5">entropy = 0.663335100757</text><text y="60.5">samples = 2</text></g>
<g id="n107" transform="translate(320.9,1192)"><rect x="-111" width="222" height="71"/><text y="20.5">X[0] &lt;= 1.4208</text><text y="40.5">entropy = 0.143773983891</text><text y="60.5">samples = 4</text></g>
<g id="n108" transform="translate(580.8,1192)"><rect x="-123.5" width="247" height="71"/><text y="20.5">entropy = 0.0000</text><text y="40.5">samples = 2</text><text y="60.5">value = [ 0.56625727  0.        ]</text></g>
<g id="n109" transform="translate(842,1192)"><rect x="-111" width="222" height="71"/><text y="20.5">X[3] &lt;= 3.0515</text><text y="40.5">entropy = 0.708414835986</text><text y="60.5">samples = 22</text></g>
<g id="n110" transform="translate(1109.3,1192)"><rect x="-131" width="262" height="71"/><text y="20.5">entropy = 0.0000</text><text y="40.5">samples = 4</text><text y="60.5">value = [  0.          10.86748546]</text></g>
<g id="n111" transform="translate(1388.5,1192)"><rect x="-123.5" width="247" height="71"/><text y="20.5">entropy = 0.0000</text><text y="40.5">samples = 20</text><text y="60.5">value = [ 6.60633484  0.        ]</text></g>
<g id="n112" transform="translate(1649,1192)"><rect x="-111" width="222" height="71"/><text y="20.5">X[4] &lt;= 8.9412</text><text y="40.5">entropy = 0.903555236294</text><text y="60.5">samples = 8</text></g>
<g id="n113" transform="translate(1909,1192)"><rect x="-123.5" width="247" height="71"/><text y="20.5">entropy = 0.0000</text><text y="40.5">samples = 1</text><text y="60.5">value = [ 0.18875242  0.        ]</text></g>
<g id="n114" transform="translate(2175,1192)"><rect x="-123.5" width="247" height="71"/><text y="20.5">entropy = 0.0000</text><text y="40.5">samples = 1</text><text y="60.5">value = [ 0.          3.62249515]</text></g>
<g id="n115" transform="translate(2453.7,1192)"><rect x="-123.5" width="247" height="71"/><text y="20.5">entropy = 0.0000</text><text y="40.5">samples = 3</text><text y="60.5">value = [ 0.          9.05623788]</text></g>
<g id="n116" transform="translate(2724.8,1192)"><rect x="-123.5" width="247" height="71"/><text y="20.5">entropy = 0.0000</text><text y="40.5">samples = 2</text><text y="60.5">value = [ 0.56625727  0.        ]</text></g>
<g id="n117" transform="translate(2996.4,1192)"><rect x="-123.5" width="247" height="71"/><text y="20.5">entropy = 0.0000</text><text y="40.5">samples = 4</text><text y="60.5">value = [ 0.94376212  0.        ]</text></g>
<g id="n118" transform="translate(3256.7,1192)"><rect x="-116.5" width="233" height="71"/><text y="20.5">entropy = -0.0000</text><text y="40.5">samples = 2</text><text y="60.5">value = [ 0.          7.2449903]</text></g>
<g id="n119" transform="translate(3515,1192)"><rect x="-111" width="222" height="71"/><text y="20.5">X[8] &lt;= 92.6630</text><text y="40.5">entropy = 0.996124032137</text><text y="60.5">samples = 41</text></g>
<g id="n120" transform="translate(3783,1192)"><rect x="-131" width="262" height="71"/><text y="20.5">entropy = 0.0000</text><text y="40.5">samples = 57</text><text y="60.5">value = [ 17.93148028   0.        ]</text></g>
<g id="n121" transform="translate(4069,1192)"><rect x="-131" width="262" height="71"/><text y="20.5">entropy = 0.0000</text><text y="40.5">samples = 134</text><text y="60.5">value = [ 41.14802844   0.        ]</text></g>
<g id="n122" transform="translate(4336,1192)"><rect x="-111" width="222" height="71"/><text y="20.5">X[3] &lt;= 2.6675</text><text y="40.5">entropy = 0.788961416886</text><text y="60.5">samples = 18</text></g>
<g id="n123" transform="translate(4581.8,1192)"><rect x="-111" width="222" height="71"/><text y="20.5">X[9] &lt;= 31.6971</text><text y="40.5">entropy = 0.620352107626</text><text y="60.5">samples = 8</text></g>
<g id="n124" transform="translate(4849,1192)"><rect x="-131" width="262" height="71"/><text y="20.5">entropy = 0.0000</text><text y="40.5">samples = 46</text><text y="60.5">value = [ 15.10019392   0.        ]</text></g>
<g id="n125" transform="translate(5148.7,1192)"><rect x="-111" width="222" height="71"/><text y="20.5">X[4] &lt;= 0.5007</text><text y="40.5">entropy = 0.450910769465</text><text y="60.5">samples = 10</text></g>
<g id="n126" transform="translate(5620.7,1192)"><rect x="-111" width="222" height="71"/><text y="20.5">X[3] &lt;= 3.4986</text><text y="40.5">entropy = 0.998131687525</text><text y="60.5">samples = 22</text></g>
<g id="n127" transform="translate(5881.6,1192)"><rect x="-123.5" width="247" height="71"/><text y="20.5">entropy = 0.0000</text><text y="40.5">samples = 2</text><text y="60.5">value = [ 0.56625727  0.        ]</text></g>
<g id="n128" transform="translate(6141.3,1192)"><rect x="-111" width="222" height="71"/><text y="20.5">X[8] &lt;= 40.7254</text><text y="40.5">entropy = 0.318488096291</text><text y="60.5">samples = 16</text></g>
<g id="n129" transform="translate(6536.7,1192)"><rect x="-123.5" width="247" height="71"/><text y="20.5">entropy = 0.0000</text><text y="40.5">samples = 1</text><text y="60.5">value = [ 0.37750485  0.        ]</text></g>
<g id="n130" transform="translate(6808.8,1192)"><rect x="-123.5" width="247" height="71"/><text y="20.5">entropy = 0.0000</text><text y="40.5">samples = 1</text><text y="60.5">value = [ 0.          1.81124758]</text></g>
<g id="n131" transform="translate(130,1310.7)"><rect x="-116.5" width="233" height="71"/><text y="20.5">entropy = 0.0000</text><text y="40.5">samples = 2</text><text y="60.5">value = [ 0.          7.2449903]</text></g>
<g id="n132" transform="translate(383.7,1310.7)"><rect x="-111" width="222" height="71"/><text y="20.5">X[1] &lt;= -0.1244</text><text y="40.5">entropy = 0.450910769465</text><text y="60.5">samples = 2</text></g>
<g id="n133" transform="translate(720,1310.7)"><rect x="-111" width="222" height="71"/><text y="20.5">X[3] &lt;= 2.4822</text><text y="40.5">entropy = 0.503385209162</text><text y="60.5">samples = 14</text></g>
<g id="n134" transform="translate(980.6,1310.7)"><rect x="-123.5" width="247" height="71"/><text y="20.5">entropy = 0.0000</text><text y="40.5">samples = 8</text><text y="60.5">value = [ 2.07627666  0.        ]</text></g>
<g id="n135" transform="translate(1450.7,1310.7)"><rect x="-111" width="222" height="71"/><text y="20.5">X[9] &lt;= 7.7978</text><text y="40.5">entropy = 0.450910769465</text><text y="60.5">samples = 3</text></g>
<g id="n136" transform="translate(1710.5,1310.7)"><rect x="-123.5" width="247" height="71"/><text y="20.5">entropy = 0.0000</text><text y="40.5">samples = 5</text><text y="60.5">value = [ 1.32126697  0.        ]</text></g>
<g id="n137" transform="translate(3254.7,1310.7)"><rect x="-111" width="222" height="71"/><text y="20.5">X[4] &lt;= 7.5891</text><text y="40.5">entropy = 0.880035162208</text><text y="60.5">samples = 29</text></g>
<g id="n138" transform="translate(3515,1310.7)"><rect x="-111" width="222" height="71"/><text y="20.5">X[9] &lt;= 12.4552</text><text y="40.5">entropy = 0.747529755842</text><text y="60.5">samples = 12</text></g>
<g id="n139" transform="translate(4049,1310.7)"><rect x="-111" width="222" height="71"/><text y="20.5">X[8] &lt;= 70.8234</text><text y="40.5">entropy = 0.791988684505</text><text y="60.5">samples = 3</text></g>
<g id="n140" transform="translate(4308.7,1310.7)"><rect x="-123.5" width="247" height="71"/><text y="20.5">entropy = 0.0000</text><text y="40.5">samples = 15</text><text y="60.5">value = [ 5.28506787  0.        ]</text></g>
<g id="n141" transform="translate(4581,1310.7)"><rect x="-123.5" width="247" height="71"/><text y="20.5">entropy = 0.0000</text><text y="40.5">samples = 2</text><text y="60.5">value = [ 0.56625727  0.        ]</text></g>
<g id="n142" transform="translate(4841.4,1310.7)"><rect x="-111" width="222" height="71"/><text y="20.5">X[1] &lt;= 0.1961</text><text y="40.5">entropy = 0.450910769465</text><text y="60.5">samples = 6</text></g>
<g id="n143" transform="translate(5101.5,1310.7)"><rect x="-123.5" width="247" height="71"/><text y="20.5">entropy = 0.0000</text><text y="40.5">samples = 4</text><text y="60.5">value = [ 1.13251454  0.        ]</text></g>
<g id="n144" transform="translate(5361,1310.7)"><rect x="-111" width="222" height="71"/><text y="20.5">X[2] &lt;= -0.4196</text><text y="40.5">entropy = 0.170724623855</text><text y="60.5">samples = 6</text></g>
<g id="n145" transform="translate(5620.5,1310.7)"><rect x="-123.5" width="247" height="71"/><text y="20.5">entropy = 0.0000</text><text y="40.5">samples = 13</text><text y="60.5">value = [ 3.02003878  0.        ]</text></g>
<g id="n146" transform="translate(5881,1310.7)"><rect x="-111" width="222" height="71"/><text y="20.5">X[7] &lt;= 10.5281</text><text y="40.5">entropy = 0.823429536267</text><text y="60.5">samples = 9</text></g>
<g id="n147" transform="translate(6140.7,1310.7)"><rect x="-123.5" width="247" height="71"/><text y="20.5">entropy = 0.0000</text><text y="40.5">samples = 2</text><text y="60.5">value = [ 0.56625727  0.        ]</text></g>
<g id="n148" transform="translate(6401,1310.7)"><rect x="-111" width="222" height="71"/><text y="20.5">X[2] &lt;= 2.7823</text><text y="40.5">entropy = 0.247517445659</text><text y="60.5">samples = 14</text></g>
<g id="n149" transform="translate(128.7,1429.4)"><rect x="-123.5" width="247" height="71"/><text y="20.5">entropy = 0.0000</text><text y="40.5">samples = 1</text><text y="60.5">value = [ 0.18875242  0.        ]</text></g>
<g id="n150" transform="translate(401,1429.4)"><rect x="-123.5" width="247" height="71"/><text y="20.5">entropy = 0.0000</text><text y="40.5">samples = 1</text><text y="60.5">value = [ 0.          1.81124758]</text></g>
<g id="n151" transform="translate(689.5,1429.4)"><rect x="-123.5" width="247" height="71"/><text y="20.5">entropy = 0.0000</text><text y="40.5">samples = 3</text><text y="60.5">value = [ 1.13251454  0.        ]</text></g>
<g id="n152" transform="translate(948.9,1429.4)"><rect x="-111" width="222" height="71"/><text y="20.5">X[1] &lt;= -0.0540</text><text y="40.5">entropy = 0.322851789993</text><text y="60.5">samples = 11</text></g>
<g id="n153" transform="translate(1328.8,1429.4)"><rect x="-123.5" width="247" height="71"/><text y="20.5">entropy = 0.0000</text><text y="40.5">samples = 1</text><text y="60.5">value = [ 0.37750485  0.        ]</text></g>
<g id="n154" transform="translate(1601,1429.4)"><rect x="-123.5" width="247" height="71"/><text y="20.5">entropy = 0.0000</text><text y="40.5">samples = 2</text><text y="60.5">value = [ 0.          3.62249515]</text></g>
<g id="n155" transform="translate(3002.8,1429.4)"><rect x="-116.5" width="233" height="71"/><text y="20.5">entropy = 0.0000</text><text y="40.5">samples = 18</text><text y="60.5">value = [ 5.4738203  0.       ]</text></g>
<g id="n156" transform="translate(3254.7,1429.4)"><rect x="-111" width="222" height="71"/><text y="20.5">X[7] &lt;= 12.2247</text><text y="40.5">entropy = 0.994058102649</text><text y="60.5">samples = 11</text></g>
<g id="n157" transform="translate(3515,1429.4)"><rect x="-111" width="222" height="71"/><text y="20.5">X[1] &lt;= 0.0950</text><text y="40.5">entropy = 0.503385209162</text><text y="60.5">samples = 7</text></g>
<g id="n158" transform="translate(3776,1429.4)"><rect x="-123.5" width="247" height="71"/><text y="20.5">entropy = 0.0000</text><text y="40.5">samples = 5</text><text y="60.5">value = [ 1.32126697  0.        ]</text></g>
<g id="n159" transform="translate(4048,1429.4)"><rect x="-123.5" width="247" height="71"/><text y="20.5">entropy = 0.0000</text><text y="40.5">samples = 1</text><text y="60.5">value = [ 0.          1.81124758]</text></g>
<g id="n160" transform="translate(4319.7,1429.4)"><rect x="-123.5" width="247" height="71"/><text y="20.5">entropy = -0.0000</text><text y="40.5">samples = 2</text><text y="60.5">value = [ 0.56625727  0.        ]</text></g>
<g id="n161" transform="translate(4643.6,1429.4)"><rect x="-111" width="222" height="71"/><text y="20.5">X[5] &lt;= -6.6731</text><text y="40.5">entropy = 0.284376188578</text><text y="60.5">samples = 5</text></g>
<g id="n162" transform="translate(4903.8,1429.4)"><rect x="-123.5" width="247" height="71"/><text y="20.5">entropy = 0.0000</text><text y="40.5">samples = 1</text><text y="60.5">value = [ 0.37750485  0.        ]</text></g>
<g id="n163" transform="translate(5231.6,1429.4)"><rect x="-116.5" width="233" height="71"/><text y="20.5">entropy = 0.0000</text><text y="40.5">samples = 1</text><text y="60.5">value = [ 0.          7.2449903]</text></g>
<g id="n164" transform="translate(5485.5,1429.4)"><rect x="-111" width="222" height="71"/><text y="20.5">X[8] &lt;= 104.0952</text><text y="40.5">entropy = 0.284376188578</text><text y="60.5">samples = 5</text></g>
<g id="n165" transform="translate(5748,1429.4)"><rect x="-123.5" width="247" height="71"/><text y="20.5">entropy = 0.0000</text><text y="40.5">samples = 7</text><text y="60.5">value = [ 1.88752424  0.        ]</text></g>
<g id="n166" transform="translate(6019.5,1429.4)"><rect x="-123.5" width="247" height="71"/><text y="20.5">entropy = -0.0000</text><text y="40.5">samples = 2</text><text y="60.5">value = [ 0.          5.43374273]</text></g>
<g id="n167" transform="translate(6280.5,1429.4)"><rect x="-111" width="222" height="71"/><text y="20.5">X[3] &lt;= 2.5716</text><text y="40.5">entropy = 0.450910769465</text><text y="60.5">samples = 8</text></g>
<g id="n168" transform="translate(6548,1429.4)"><rect x="-131" width="262" height="71"/><text y="20.5">entropy = 0.0000</text><text y="40.5">samples = 6</text><text y="60.5">value = [  0.          18.11247576]</text></g>
<g id="n169" transform="translate(819.5,1548.1)"><rect x="-111" width="222" height="71"/><text y="20.5">X[8] &lt;= 47.1815</text><text y="40.5">entropy = 0.195972188561</text><text y="60.5">samples = 8</text></g>
<g id="n170" transform="translate(1080,1548.1)"><rect x="-123.5" width="247" height="71"/><text y="20.5">entropy = 0.0000</text><text y="40.5">samples = 3</text><text y="60.5">value = [ 0.56625727  0.        ]</text></g>
<g id="n171" transform="translate(2995,1548.1)"><rect x="-111" width="222" height="71"/><text y="20.5">X[9] &lt;= 13.9630</text><text y="40.5">entropy = 0.837504521055</text><text y="60.5">samples = 7</text></g>
<g id="n172" transform="translate(3255.3,1548.1)"><rect x="-123.5" width="247" height="71"/><text y="20.5">entropy = -0.0000</text><text y="40.5">samples = 4</text><text y="60.5">value = [ 1.69877182  0.        ]</text></g>
<g id="n173" transform="translate(3515,1548.1)"><rect x="-111" width="222" height="71"/><text y="20.5">X[8] &lt;= 115.3378</text><text y="40.5">entropy = 0.322851789993</text><text y="60.5">samples = 5</text></g>
<g id="n174" transform="translate(3776,1548.1)"><rect x="-123.5" width="247" height="71"/><text y="20.5">entropy = 0.0000</text><text y="40.5">samples = 2</text><text y="60.5">value = [ 0.56625727  0.        ]</text></g>
<g id="n175" transform="translate(4514.8,1548.1)"><rect x="-123.5" width="247" height="71"/><text y="20.5">entropy = 0.0000</text><text y="40.5">samples = 1</text><text y="60.5">value = [ 0.18875242  0.        ]</text></g>
<g id="n176" transform="translate(4775,1548.1)"><rect x="-111" width="222" height="71"/><text y="20.5">X[2] &lt;= 7.7138</text><text y="40.5">entropy = 0.170724623855</text><text y="60.5">samples = 4</text></g>
<g id="n177" transform="translate(5418,1548.1)"><rect x="-116.5" width="233" height="71"/><text y="20.5">entropy = 0.0000</text><text y="40.5">samples = 3</text><text y="60.5">value = [ 0.          7.2449903]</text></g>
<g id="n178" transform="translate(5683.5,1548.1)"><rect x="-123.5" width="247" height="71"/><text y="20.5">entropy = -0.0000</text><text y="40.5">samples = 2</text><text y="60.5">value = [ 0.37750485  0.        ]</text></g>
<g id="n179" transform="translate(6088,1548.1)"><rect x="-123.5" width="247" height="71"/><text y="20.5">entropy = 0.0000</text><text y="40.5">samples = 2</text><text y="60.5">value = [ 1.13251454  0.        ]</text></g>
<g id="n180" transform="translate(6347.6,1548.1)"><rect x="-111" width="222" height="71"/><text y="20.5">X[2] &lt;= 2.6499</text><text y="40.5">entropy = 0.110356705668</text><text y="60.5">samples = 6</text></g>
<g id="n181" transform="translate(688.3,1666.8)"><rect x="-123.5" width="247" height="71"/><text y="20.5">entropy = 0.0000</text><text y="40.5">samples = 1</text><text y="60.5">value = [ 0.37750485  0.        ]</text></g>
<g id="n182" transform="translate(952,1666.8)"><rect x="-115.5" width="231" height="71"/><text y="20.5">X[8] &lt;= 131.8917</text><text y="40.5">entropy = 0.0828653249358</text><text y="60.5">samples = 7</text></g>
<g id="n183" transform="translate(2865,1666.8)"><rect x="-123.5" width="247" height="71"/><text y="20.5">entropy = 0.0000</text><text y="40.5">samples = 4</text><text y="60.5">value = [ 1.13251454  0.        ]</text></g>
<g id="n184" transform="translate(3125,1666.8)"><rect x="-111" width="222" height="71"/><text y="20.5">X[9] &lt;= 19.6468</text><text y="40.5">entropy = 0.284376188578</text><text y="60.5">samples = 3</text></g>
<g id="n185" transform="translate(3450,1666.8)"><rect x="-123.5" width="247" height="71"/><text y="20.5">entropy = 0.0000</text><text y="40.5">samples = 3</text><text y="60.5">value = [ 0.          9.05623788]</text></g>
<g id="n186" transform="translate(3723,1666.8)"><rect x="-123.5" width="247" height="71"/><text y="20.5">entropy = -0.0000</text><text y="40.5">samples = 2</text><text y="60.5">value = [ 0.56625727  0.        ]</text></g>
<g id="n187" transform="translate(4641.7,1666.8)"><rect x="-116.5" width="233" height="71"/><text y="20.5">entropy = 0.0000</text><text y="40.5">samples = 3</text><text y="60.5">value = [ 0.          7.2449903]</text></g>
<g id="n188" transform="translate(4907.7,1666.8)"><rect x="-123.5" width="247" height="71"/><text y="20.5">entropy = 0.0000</text><text y="40.5">samples = 1</text><text y="60.5">value = [ 0.18875242  0.        ]</text></g>
<g id="n189" transform="translate(6207.8,1666.8)"><rect x="-131" width="262" height="71"/><text y="20.5">entropy = 0.0000</text><text y="40.5">samples = 5</text><text y="60.5">value = [  0.          12.67873303]</text></g>
<g id="n190" transform="translate(6487.5,1666.8)"><rect x="-123.5" width="247" height="71"/><text y="20.5">entropy = 0.0000</text><text y="40.5">samples = 1</text><text y="60.5">value = [ 0.18875242  0.        ]</text></g>
<g id="n191" transform="translate(812,1785.5)"><rect x="-131" width="262" height="71"/><text y="20.5">entropy = 0.0000</text><text y="40.5">samples = 6</text><text y="60.5">value = [  0.          18.11247576]</text></g>
<g id="n192" transform="translate(1092,1785.5)"><rect x="-123.5" width="247" height="71"/><text y="20.5">entropy = 0.0000</text><text y="40.5">samples = 1</text><text y="60.5">value = [ 0.18875242  0.        ]</text></g>
<g id="n193" transform="translate(2994,1785.5)"><rect x="-111" width="222" height="71"/><text y="20.5">X[1] &lt;= 0.1199</text><text y="40.5">entropy = 0.450910769465</text><text y="60.5">samples = 2</text></g>
<g id="n194" transform="translate(3254,1785.5)"><rect x="-123.5" width="247" height="71"/><text y="20.5">entropy = -0.0000</text><text y="40.5">samples = 1</text><text y="60.5">value = [ 0.          1.81124758]</text></g>
<g id="n195" transform="translate(2852,1904.2)"><rect x="-123.5" width="247" height="71"/><text y="20.5">entropy = 0.0000</text><text y="40.5">samples = 1</text><text y="60.5">value = [ 0.          1.81124758]</text></g>
<g id="n196" transform="translate(3131,1904.2)"><rect x="-123.5" width="247" height="71"/><text y="20.5">entropy = -0.0000</text><text y="40.5">samples = 1</text><text y="60.5">value = [ 0.18875242  0.        ]</text></g>
</svg>
